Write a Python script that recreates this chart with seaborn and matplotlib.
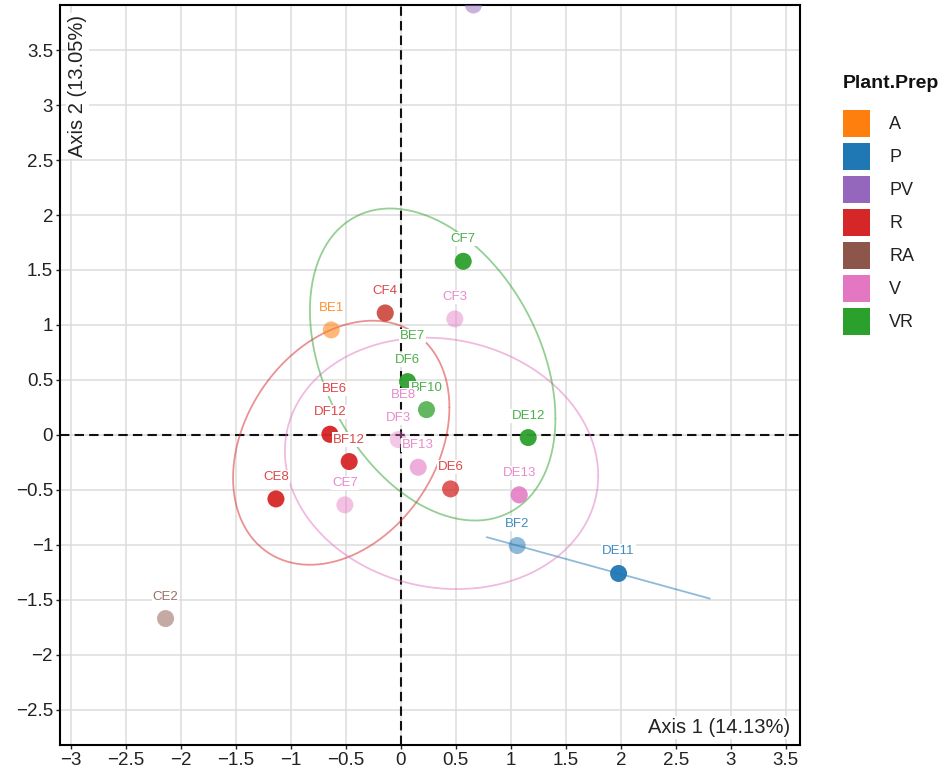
import numpy as np
import pandas as pd
import matplotlib
matplotlib.use("Agg")
import matplotlib.pyplot as plt
import seaborn as sns
from matplotlib.patches import Patch
from matplotlib.ticker import MultipleLocator, FuncFormatter

# 样本坐标 (PCoA), 被遮住的点放在前面
samples = ["BE6", "BE7", "BE8", "PV1", "BE1", "CF4", "CF3", "CF7", "DF6", "BF10",
           "DF3", "DF12", "BF12", "CE8", "CE7", "BF13", "DE6", "DE12", "DE13",
           "BF2", "DE11", "CE2"]
plant_prep = ["R", "VR", "V", "PV", "A", "R", "V", "VR", "VR", "VR",
              "V", "R", "R", "R", "V", "V", "R", "VR", "V",
              "P", "P", "RA"]
axis1 = [-0.645, -0.142, 1.076, 0.66, -0.633, -0.142, 0.491, 0.567, 0.061, 0.233,
         -0.024, -0.645, -0.47, -1.136, -0.509, 0.158, 0.452, 1.158, 1.076,
         1.058, 1.98, -2.14]
axis2 = [0.006, 1.109, -0.545, 3.91, 0.955, 1.109, 1.055, 1.579, 0.485, 0.230,
         -0.042, 0.006, -0.242, -0.582, -0.636, -0.294, -0.491, -0.024, -0.545,
         -1.006, -1.26, -1.67]

levels = ["A", "P", "PV", "R", "RA", "V", "VR"]
colors = ["#ff7f0e", "#1f77b4", "#9467bd", "#d62728", "#8c564b", "#e377c2", "#2ca02c"]
pal = dict(zip(levels, colors))

# 点的透明度
point_alpha = {"PV1": 0.5, "BE1": 0.55, "CF4": 0.75, "CF3": 0.45, "CF7": 0.95,
               "BE7": 0.3, "DF6": 0.95, "BF10": 0.75, "BE8": 0.3, "DF3": 0.4,
               "BE6": 0.3, "DF12": 0.95, "BF12": 0.95, "CE8": 0.95, "CE7": 0.45,
               "BF13": 0.6, "DE6": 0.75, "DE12": 0.95, "DE13": 0.8,
               "BF2": 0.5, "DE11": 0.95, "CE2": 0.5}
# 标签偏移 (拥挤处)
label_shift = {"BE7": (0.245, -0.21), "BE8": (-1.049, 0.91), "BE6": (0.045, 0.41)}

df = pd.DataFrame({"sample": samples, "group": plant_prep, "x": axis1, "y": axis2})


def cov_trob(xy, nu=5, maxit=25, tol=0.01):
    # MASS::cov.trob
    n, p = xy.shape
    wt = np.ones(n)
    loc = xy.mean(0)
    w = np.sqrt(wt)
    X = xy - loc
    for _ in range(maxit):
        w0 = w
        X = xy - loc
        _, d, vt = np.linalg.svd(np.sqrt(w / w.sum())[:, None] * X, full_matrices=False)
        wX = X @ vt.T @ np.diag(1 / d)
        Q = (wX ** 2).sum(1)
        w = wt * (nu + p) / (nu + Q)
        loc = (w[:, None] * xy).sum(0) / w.sum()
        if np.all(np.abs(w - w0) < tol):
            break
    sx = np.sqrt(w)[:, None] * X
    return loc, sx.T @ sx / wt.sum()


def ellipse_path(xy, level=0.87, seg=120):
    n = len(xy)
    if n < 3:
        # 两点时退化成直线
        d = xy[1] - xy[0]
        return np.vstack([xy[0] - 0.30 * d, xy[1] + 0.90 * d])
    center, shape = cov_trob(xy)
    dfd = n - 1
    fq = dfd / 2 * ((1 - level) ** (-2 / dfd) - 1)
    radius = np.sqrt(2 * fq)
    ang = np.linspace(0, 2 * np.pi, seg + 1)
    circ = np.column_stack([np.cos(ang), np.sin(ang)])
    L = np.linalg.cholesky(shape)
    return center + radius * circ @ L.T


sns.set_theme(style="white")
plt.rcParams["font.family"] = ["Liberation Sans", "DejaVu Sans"]

fig = plt.figure(figsize=(9.53, 7.68), dpi=100)
ax = fig.add_axes([60 / 953, 1 - 745 / 768, 740 / 953, 740 / 768])

ax.set_xlim(-3.1, 3.63)
ax.set_ylim(-2.82, 3.91)
ax.xaxis.set_major_locator(MultipleLocator(0.5))
ax.yaxis.set_major_locator(MultipleLocator(0.5))
fmt = FuncFormatter(lambda v, p: ("%g" % round(v, 2)).replace("-", "\u2212"))
ax.xaxis.set_major_formatter(fmt)
ax.yaxis.set_major_formatter(fmt)
ax.grid(True, color="#dcdcdc", linewidth=1.1, zorder=0)
ax.set_axisbelow(True)
for sp in ax.spines.values():
    sp.set_color("black")
    sp.set_linewidth(1.5)
ax.tick_params(axis="both", labelsize=13.5, colors="#222222", length=3, width=1,
               bottom=True, left=True, pad=2)

ax.axhline(0, color="#111111", lw=1.5, dashes=(4.5, 2.5), zorder=1)
ax.axvline(0, color="#111111", lw=1.5, dashes=(4.5, 2.5), zorder=1)

# 置信椭圆
for g in ["P", "R", "V", "VR"]:
    sub = df[df["group"] == g][["x", "y"]].to_numpy()
    e = ellipse_path(sub)
    ax.plot(e[:, 0], e[:, 1], color=pal[g], alpha=0.5, lw=1.3, zorder=2)

point_pal = {s: matplotlib.colors.to_rgba(pal[g], point_alpha[s])
             for s, g in zip(samples, plant_prep)}
sns.scatterplot(data=df, x="x", y="y", hue="sample", palette=point_pal,
                s=150, linewidth=0, legend=False, ax=ax, zorder=3)

ytop = ax.get_ylim()[1]
for s, g, x, y in zip(samples, plant_prep, axis1, axis2):
    dx, dy = label_shift.get(s, (0.0, 0.2))
    if y + dy > ytop:
        continue
    ax.text(x + dx, y + dy, s, color=pal[g], alpha=0.85, fontsize=9.5,
            ha="center", va="center", zorder=4.5 if s in label_shift else 4,
            bbox=dict(boxstyle="square,pad=0.08", fc="white", ec="none"))

ax.set_xlabel("")
ax.set_ylabel("")
ax.text(0.024, 0.986, "Axis 2 (13.05%)", transform=ax.transAxes, rotation=90,
        ha="center", va="top", fontsize=14.5, color="#222222", zorder=5,
        bbox=dict(boxstyle="square,pad=0.1", fc="white", ec="none"))
ax.text(0.986, 0.024, "Axis 1 (14.13%)", transform=ax.transAxes,
        ha="right", va="center", fontsize=14.5, color="#222222", zorder=5,
        bbox=dict(boxstyle="square,pad=0.1", fc="white", ec="none"))

# 图例
fig.text(843 / 953, 1 - 84 / 768, "Plant.Prep", fontsize=14, fontweight="bold",
         ha="left", va="center", color="#111111")
handles = [Patch(facecolor=pal[l], edgecolor="none", label=l) for l in levels]
leg = fig.legend(handles=handles, loc="upper left",
                 bbox_to_anchor=(843 / 953, 1 - 110 / 768), frameon=False,
                 fontsize=13, handlelength=1.5, handleheight=1.93,
                 labelspacing=0.33, handletextpad=1.05, borderpad=0,
                 borderaxespad=0)
for t in leg.get_texts():
    t.set_color("#222222")

plt.savefig("out.png", dpi=100)
